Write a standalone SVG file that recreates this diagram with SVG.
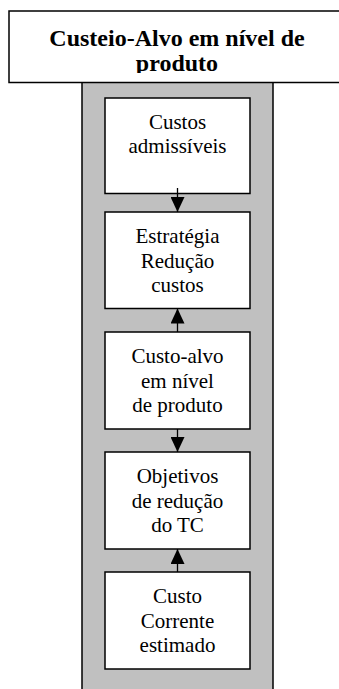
<svg xmlns="http://www.w3.org/2000/svg" width="339" height="689" viewBox="0 0 339 689">
<style>
.box{fill:#fff;stroke:#000;stroke-width:1.5}
.t{font-family:'Liberation Serif','Times New Roman','DejaVu Serif',serif;font-size:21px;text-anchor:middle;fill:#000}
.title{font-family:'Liberation Serif','Times New Roman','DejaVu Serif',serif;font-size:24px;font-weight:bold;text-anchor:middle;fill:#000}
.c{stroke:#000;stroke-width:1.3;fill:none;marker-end:url(#ah)}
</style>
<defs>
<marker id="ah" markerUnits="userSpaceOnUse" markerWidth="15" markerHeight="14" refX="15" refY="7" orient="auto" viewBox="0 0 15 14">
<path d="M0,0 L15,7 L0,14 Z" fill="#000"/>
</marker>
<clipPath id="tc"><rect x="9" y="11" width="340" height="62"/></clipPath>
</defs>
<g id="column">
<rect x="82" y="82" width="191" height="620" fill="#c0c0c0" stroke="#000" stroke-width="1.5"/>
</g>
<g id="title">
<rect x="9" y="11" width="340" height="71.5" fill="#fff" stroke="#000" stroke-width="1.5"/>
<g clip-path="url(#tc)">
<text class="title" x="177" y="46" font-family="Liberation Serif, serif">Custeio-Alvo em nível de</text>
<text class="title" x="177" y="71" font-family="Liberation Serif, serif">produto</text>
</g>
</g>
<g id="n1">
<rect class="box" x="105" y="98" width="145" height="95.5"/>
<text class="t" x="177.5" y="128.5">Custos</text>
<text class="t" x="177.5" y="153">admissíveis</text>
</g>
<g id="n2">
<rect class="box" x="105" y="212" width="145" height="96.5"/>
<text class="t" x="177.5" y="243">Estratégia</text>
<text class="t" x="177.5" y="267.5">Redução</text>
<text class="t" x="177.5" y="292">custos</text>
</g>
<g id="n3">
<rect class="box" x="105" y="332" width="145" height="97"/>
<text class="t" x="177.5" y="363">Custo-alvo</text>
<text class="t" x="177.5" y="387.5">em nível</text>
<text class="t" x="177.5" y="412">de produto</text>
</g>
<g id="n4">
<rect class="box" x="105" y="452" width="145" height="97"/>
<text class="t" x="177.5" y="483">Objetivos</text>
<text class="t" x="177.5" y="507.5">de redução</text>
<text class="t" x="177.5" y="532">do TC</text>
</g>
<g id="n5">
<rect class="box" x="105" y="572" width="145" height="97"/>
<text class="t" x="177.5" y="603">Custo</text>
<text class="t" x="177.5" y="627.5">Corrente</text>
<text class="t" x="177.5" y="652">estimado</text>
</g>
<g id="connectors">
<line class="c" x1="177.5" y1="188" x2="177.5" y2="212"/>
<line class="c" x1="177.5" y1="332" x2="177.5" y2="308.5"/>
<line class="c" x1="177.5" y1="429" x2="177.5" y2="452"/>
<line class="c" x1="177.5" y1="572" x2="177.5" y2="549"/>
</g>
</svg>
